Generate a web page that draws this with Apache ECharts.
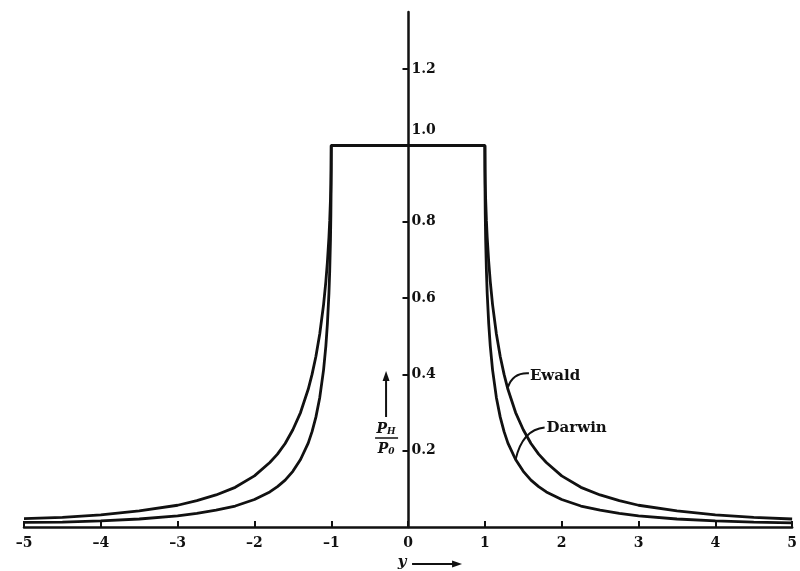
<!DOCTYPE html>
<html>
<head>
<meta charset="utf-8">
<script src="https://cdn.jsdelivr.net/npm/echarts@6/dist/echarts.min.js"></script>
<style>
  html, body { margin: 0; padding: 0; background: #fff; }
  #chart { width: 800px; height: 571px; }
</style>
</head>
<body>
<div id="chart"></div>
<script>
// y (deviation parameter) positions
const yParam = [
  -5, -4.5, -4, -3.5, -3, -2.75, -2.5, -2.25, -2, -1.8, -1.7, -1.6, -1.5, -1.4,
  -1.3, -1.25, -1.2, -1.15, -1.1, -1.07, -1.05, -1.03, -1.02, -1.01, -1.005, -1.002, -1,
  1, 1.002, 1.005, 1.01, 1.02, 1.03, 1.05, 1.07, 1.1, 1.15, 1.2, 1.25, 1.3,
  1.4, 1.5, 1.6, 1.7, 1.8, 2, 2.25, 2.5, 2.75, 3, 3.5, 4, 4.5, 5
];

// P_H / P_0, Ewald curve (outer)
const ewald = [
  0.022, 0.025, 0.032, 0.042, 0.057, 0.069, 0.084, 0.104, 0.134, 0.169, 0.191, 0.219, 0.255, 0.300,
  0.361, 0.400, 0.447, 0.506, 0.583, 0.644, 0.695, 0.760, 0.803, 0.860, 0.900, 0.937, 1,
  1, 0.937, 0.900, 0.860, 0.803, 0.760, 0.695, 0.644, 0.583, 0.506, 0.447, 0.400, 0.361,
  0.300, 0.255, 0.219, 0.191, 0.169, 0.134, 0.104, 0.084, 0.069, 0.057, 0.042, 0.032, 0.025, 0.021
];

// P_H / P_0, Darwin curve (inner)
const darwin = [
  0.012, 0.013, 0.016, 0.021, 0.029, 0.036, 0.044, 0.055, 0.072, 0.092, 0.106, 0.123, 0.146, 0.177,
  0.220, 0.250, 0.288, 0.339, 0.412, 0.475, 0.533, 0.613, 0.671, 0.754, 0.819, 0.881, 1,
  1, 0.881, 0.819, 0.754, 0.671, 0.613, 0.533, 0.475, 0.412, 0.339, 0.288, 0.250, 0.220,
  0.177, 0.146, 0.123, 0.106, 0.092, 0.072, 0.055, 0.044, 0.036, 0.029, 0.021, 0.016, 0.013, 0.011
];

const yTicks = [0.2, 0.4, 0.6, 0.8, 1.0, 1.2];
const xTicks = [-5, -4, -3, -2, -1, 0, 1, 2, 3, 4, 5];

const ink = '#111';
const serif = 'DejaVu Serif';
const gridLeft = 24;
const gridRight = 7;

const chart = echarts.init(document.getElementById('chart'));

// the y axis stands at x = 0, in the middle of the plot
const plotWidth = 800 - gridLeft - gridRight;
const yAxisOffset = -plotWidth * (0 - -5) / 10;

const option = {
  backgroundColor: '#fff',
  animation: false,
  grid: { left: gridLeft, right: gridRight, top: 12, bottom: 44 },
  xAxis: {
    type: 'value',
    min: -5,
    max: 5,
    interval: 1,
    splitLine: { show: false },
    axisLine: { onZero: false, lineStyle: { color: ink, width: 2.5 } },
    axisTick: { inside: true, length: 6, lineStyle: { color: ink, width: 2 }, customValues: xTicks },
    axisLabel: {
      customValues: xTicks,
      margin: 9,
      color: ink,
      fontFamily: serif,
      fontWeight: 'bold',
      fontSize: 14,
      formatter: v => (v < 0 ? '\u2013' + Math.abs(v) : String(v))
    }
  },
  yAxis: {
    type: 'value',
    min: 0,
    max: 1.35,
    position: 'left',
    offset: yAxisOffset,
    splitLine: { show: false },
    axisLine: { onZero: false, lineStyle: { color: ink, width: 2.5 } },
    axisTick: { length: 6, lineStyle: { color: ink, width: 2 }, customValues: yTicks },
    axisLabel: {
      customValues: yTicks,
      inside: true,
      margin: 3,
      color: ink,
      fontFamily: serif,
      fontWeight: 'bold',
      fontSize: 14,
      formatter: v => (Math.abs(v - 1) < 1e-6 ? '{up|1.0}' : v.toFixed(1)),
      rich: {
        up: { fontFamily: serif, fontWeight: 'bold', fontSize: 14, color: ink, padding: [0, 0, 30, 0] }
      }
    }
  },
  series: [
    {
      name: 'Ewald',
      type: 'line',
      showSymbol: false,
      data: yParam.map((y, i) => [y, ewald[i]]),
      lineStyle: { color: ink, width: 2.8 },
      z: 3
    },
    {
      name: 'Darwin',
      type: 'line',
      showSymbol: false,
      data: yParam.map((y, i) => [y, darwin[i]]),
      lineStyle: { color: ink, width: 2.8 },
      z: 3
    }
  ]
};

chart.setOption(option);

// leader lines start on the curves, placed with the chart's own scales
const ewaldAt = chart.convertToPixel({ gridIndex: 0 }, [1.3, 0.361]);
const darwinAt = chart.convertToPixel({ gridIndex: 0 }, [1.4, 0.177]);
const origin = chart.convertToPixel({ gridIndex: 0 }, [0, 0]);

const labelFont = { fontFamily: serif, fontWeight: 'bold', fontSize: 15, fill: ink };
const italic = { fontFamily: serif, fontWeight: 'bold', fontStyle: 'italic', fill: ink };

chart.setOption({
  graphic: [
    {
      type: 'bezierCurve',
      shape: {
        x1: ewaldAt[0], y1: ewaldAt[1] - 2,
        x2: ewaldAt[0] + 21, y2: ewaldAt[1] - 16,
        cpx1: ewaldAt[0] + 5, cpy1: ewaldAt[1] - 17
      },
      style: { stroke: ink, lineWidth: 2, fill: null }
    },
    {
      type: 'text',
      x: ewaldAt[0] + 22,
      y: ewaldAt[1] - 13,
      style: Object.assign({ text: 'Ewald', textVerticalAlign: 'middle' }, labelFont)
    },
    {
      type: 'bezierCurve',
      shape: {
        x1: darwinAt[0], y1: darwinAt[1],
        x2: darwinAt[0] + 29, y2: darwinAt[1] - 32,
        cpx1: darwinAt[0] + 7, cpy1: darwinAt[1] - 30
      },
      style: { stroke: ink, lineWidth: 2, fill: null }
    },
    {
      type: 'text',
      x: darwinAt[0] + 31,
      y: darwinAt[1] - 31,
      style: Object.assign({ text: 'Darwin', textVerticalAlign: 'middle' }, labelFont)
    },
    // P_H / P_0 with upward arrow
    {
      type: 'line',
      shape: { x1: origin[0] - 22, y1: origin[1] - 110, x2: origin[0] - 22, y2: origin[1] - 150 },
      style: { stroke: ink, lineWidth: 2 }
    },
    {
      type: 'polygon',
      shape: { points: [
        [origin[0] - 22, origin[1] - 156],
        [origin[0] - 25.5, origin[1] - 146],
        [origin[0] - 18.5, origin[1] - 146]
      ] },
      style: { fill: ink }
    },
    {
      type: 'text',
      x: origin[0] - 22,
      y: origin[1] - 98,
      style: {
        text: '{p|P}{s|H}',
        textAlign: 'center',
        textVerticalAlign: 'middle',
        rich: {
          p: Object.assign({ fontSize: 14 }, italic),
          s: Object.assign({ fontSize: 9, padding: [6, 0, 0, 0] }, italic)
        }
      }
    },
    {
      type: 'line',
      shape: { x1: origin[0] - 33, y1: origin[1] - 89, x2: origin[0] - 10, y2: origin[1] - 89 },
      style: { stroke: ink, lineWidth: 1.5 }
    },
    {
      type: 'text',
      x: origin[0] - 22,
      y: origin[1] - 78,
      style: {
        text: '{p|P}{s|0}',
        textAlign: 'center',
        textVerticalAlign: 'middle',
        rich: {
          p: Object.assign({ fontSize: 14 }, italic),
          s: Object.assign({ fontSize: 9, padding: [6, 0, 0, 0] }, italic)
        }
      }
    },
    // x-axis name: y with arrow
    {
      type: 'text',
      x: origin[0] - 6,
      y: origin[1] + 35,
      style: Object.assign({ text: 'y', fontSize: 15, textAlign: 'center', textVerticalAlign: 'middle' }, italic)
    },
    {
      type: 'line',
      shape: { x1: origin[0] + 4, y1: origin[1] + 37, x2: origin[0] + 46, y2: origin[1] + 37 },
      style: { stroke: ink, lineWidth: 1.8 }
    },
    {
      type: 'polygon',
      shape: { points: [
        [origin[0] + 54, origin[1] + 37],
        [origin[0] + 44, origin[1] + 33.5],
        [origin[0] + 44, origin[1] + 40.5]
      ] },
      style: { fill: ink }
    }
  ]
});
</script>
</body>
</html>
